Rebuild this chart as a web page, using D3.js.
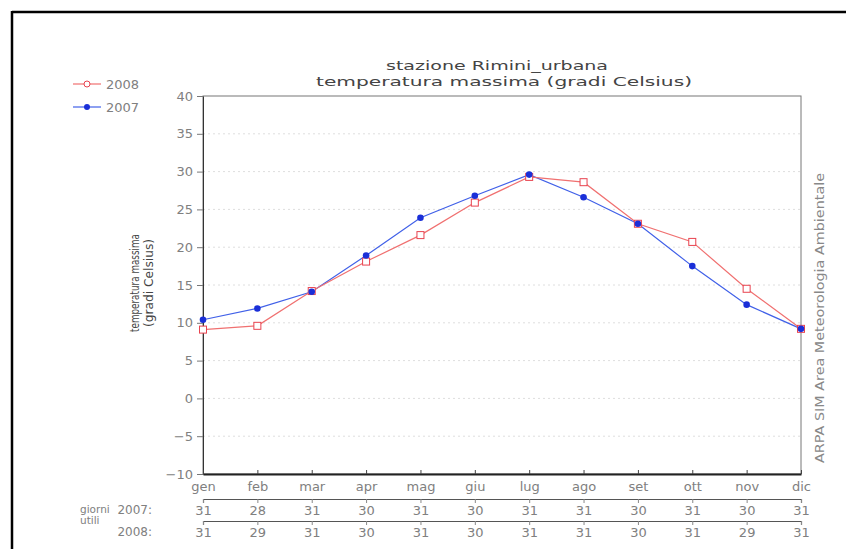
<!DOCTYPE html>
<html>
<head>
<meta charset="utf-8">
<script src="https://cdn.jsdelivr.net/npm/d3@7"></script>
<style>
  html, body { margin: 0; padding: 0; background: #fff; }
  svg { display: block; }
  text { font-family: "DejaVu Sans", "Liberation Sans", sans-serif; }
</style>
</head>
<body>
<svg id="chart" width="846" height="549"></svg>
<script>
// ---- data ----
const months = ["gen","feb","mar","apr","mag","giu","lug","ago","set","ott","nov","dic"];
const values2008 = [9.1, 9.6, 14.2, 18.1, 21.6, 25.9, 29.3, 28.6, 23.1, 20.7, 14.5, 9.2];
const values2007 = [10.4, 11.9, 14.1, 18.9, 23.9, 26.8, 29.6, 26.6, 23.1, 17.5, 12.4, 9.2];
const days2007 = [31, 28, 31, 30, 31, 30, 31, 31, 30, 31, 30, 31];
const days2008 = [31, 29, 31, 30, 31, 30, 31, 31, 30, 31, 29, 31];
const yTicks = [-10, -5, 0, 5, 10, 15, 20, 25, 30, 35, 40];
const seriesNames = ["2008", "2007"];
const titleLines = ["stazione Rimini_urbana", "temperatura massima (gradi Celsius)"];
const yTitleLines = ["temperatura massima", "(gradi Celsius)"];
const creditText = "ARPA SIM Area Meteorologia Ambientale";

// ---- layout ----
const svg = d3.select("#chart");
const L = 203, R = 801, T = 96, B = 474;
const x = d3.scalePoint().domain(months).range([L, R]);
const y = d3.scaleLinear().domain([-10, 40]).range([B, T]);

const red = "#e8434f", redLine = "#f07070";
const blue = "#1a2fd8", blueLine = "#4060e8";
const tickColor = "#808080";

// outer frame (top and left black lines)
svg.append("line").attr("x1", 12).attr("x2", 846).attr("y1", 12).attr("y2", 12)
  .attr("stroke", "#000").attr("stroke-width", 2.5);
svg.append("line").attr("x1", 12).attr("x2", 12).attr("y1", 11).attr("y2", 549)
  .attr("stroke", "#000").attr("stroke-width", 2.5);

// title
svg.append("text").attr("x", 497).attr("y", 70).attr("text-anchor", "middle")
  .attr("font-size", 13).attr("fill", "#444")
  .attr("textLength", 222).attr("lengthAdjust", "spacingAndGlyphs")
  .text(titleLines[0]);
svg.append("text").attr("x", 504).attr("y", 86).attr("text-anchor", "middle")
  .attr("font-size", 13).attr("fill", "#444")
  .attr("textLength", 376).attr("lengthAdjust", "spacingAndGlyphs")
  .text(titleLines[1]);

// grid
svg.append("g").selectAll("line")
  .data(yTicks.filter(d => d > -10 && d < 40))
  .join("line")
  .attr("x1", L).attr("x2", R)
  .attr("y1", d => y(d)).attr("y2", d => y(d))
  .attr("stroke", "#dedede").attr("stroke-width", 1)
  .attr("stroke-dasharray", "2,3");

// plot frame
svg.append("rect").attr("x", L).attr("y", T).attr("width", R - L).attr("height", B - T)
  .attr("fill", "none").attr("stroke", "#777").attr("stroke-width", 1);

// y axis
const yAxis = svg.append("g").attr("transform", `translate(${L},0)`)
  .call(d3.axisLeft(y).tickValues(yTicks).tickSize(6).tickPadding(4).tickSizeOuter(0));
yAxis.select(".domain").attr("stroke", "#333");
yAxis.selectAll(".tick line").attr("stroke", "#777");
yAxis.selectAll(".tick text").attr("font-size", 13).attr("fill", tickColor)
  .attr("font-family", "DejaVu Sans, sans-serif");

// x axis (bottom of plot)
const xAxis = svg.append("g").attr("transform", `translate(0,${B})`)
  .call(d3.axisBottom(x).tickSize(-4).tickSizeOuter(0).tickPadding(8));
xAxis.select(".domain").attr("stroke", "#222").attr("stroke-width", 1.8);
xAxis.selectAll(".tick line").attr("stroke", "#444");
xAxis.selectAll(".tick text").attr("font-size", 13).attr("fill", tickColor)
  .attr("font-family", "DejaVu Sans, sans-serif");

// day count rows
function dayRow(yPos, days) {
  const g = svg.append("g").attr("transform", `translate(0,${yPos})`)
    .call(d3.axisBottom(x).tickSize(4).tickSizeOuter(4).tickPadding(3)
      .tickFormat((d, i) => days[i]));
  g.select(".domain").attr("stroke", "#555").attr("stroke-width", 1.2);
  g.selectAll(".tick line").attr("stroke", "#888");
  g.selectAll(".tick text").attr("font-size", 13).attr("fill", tickColor)
    .attr("font-family", "DejaVu Sans, sans-serif");
}
dayRow(499, days2007);
dayRow(521, days2008);

svg.append("text").attr("x", 80).attr("y", 513).attr("font-size", 10.5).attr("fill", tickColor).text("giorni");
svg.append("text").attr("x", 80).attr("y", 524).attr("font-size", 10.5).attr("fill", tickColor).text("utili");
svg.append("text").attr("x", 152).attr("y", 514).attr("text-anchor", "end").attr("font-size", 12).attr("fill", tickColor).text("2007:");
svg.append("text").attr("x", 152).attr("y", 536).attr("text-anchor", "end").attr("font-size", 12).attr("fill", tickColor).text("2008:");

// y title
svg.append("text").attr("transform", "translate(139,283) rotate(-90)")
  .attr("text-anchor", "middle").attr("font-size", 12).attr("fill", "#444")
  .attr("textLength", 98).attr("lengthAdjust", "spacingAndGlyphs")
  .text(yTitleLines[0]);
svg.append("text").attr("transform", "translate(153,283) rotate(-90)")
  .attr("text-anchor", "middle").attr("font-size", 12).attr("fill", "#444")
  .attr("textLength", 88).attr("lengthAdjust", "spacingAndGlyphs")
  .text(yTitleLines[1]);

// credit
svg.append("text").attr("transform", "translate(824,318) rotate(-90)")
  .attr("text-anchor", "middle").attr("font-size", 13).attr("fill", "#888")
  .attr("textLength", 290).attr("lengthAdjust", "spacingAndGlyphs")
  .text(creditText);

// lines
const line = d3.line().x((d, i) => x(months[i])).y(d => y(d));
svg.append("path").datum(values2007).attr("d", line)
  .attr("fill", "none").attr("stroke", blueLine).attr("stroke-width", 1.2);
svg.append("path").datum(values2008).attr("d", line)
  .attr("fill", "none").attr("stroke", redLine).attr("stroke-width", 1.2);

// markers
svg.append("g").selectAll("rect").data(values2008).join("rect")
  .attr("x", (d, i) => x(months[i]) - 3.5).attr("y", d => y(d) - 3.5)
  .attr("width", 7).attr("height", 7)
  .attr("fill", "#fff").attr("stroke", red).attr("stroke-width", 1);
svg.append("g").selectAll("circle").data(values2007).join("circle")
  .attr("cx", (d, i) => x(months[i])).attr("cy", d => y(d)).attr("r", 3.3)
  .attr("fill", blue);

// legend
const legY = [84, 107];
seriesNames.forEach((name, i) => {
  const col = i === 0 ? redLine : blueLine;
  svg.append("line").attr("x1", 73).attr("x2", 101).attr("y1", legY[i]).attr("y2", legY[i])
    .attr("stroke", col).attr("stroke-width", 1.2);
  if (i === 0) {
    svg.append("circle").attr("cx", 87).attr("cy", legY[i]).attr("r", 3)
      .attr("fill", "#fff").attr("stroke", red).attr("stroke-width", 1);
  } else {
    svg.append("circle").attr("cx", 87).attr("cy", legY[i]).attr("r", 3)
      .attr("fill", blue);
  }
  svg.append("text").attr("x", 106).attr("y", legY[i] + 5).attr("font-size", 13)
    .attr("fill", tickColor).text(name);
});
</script>
</body>
</html>
